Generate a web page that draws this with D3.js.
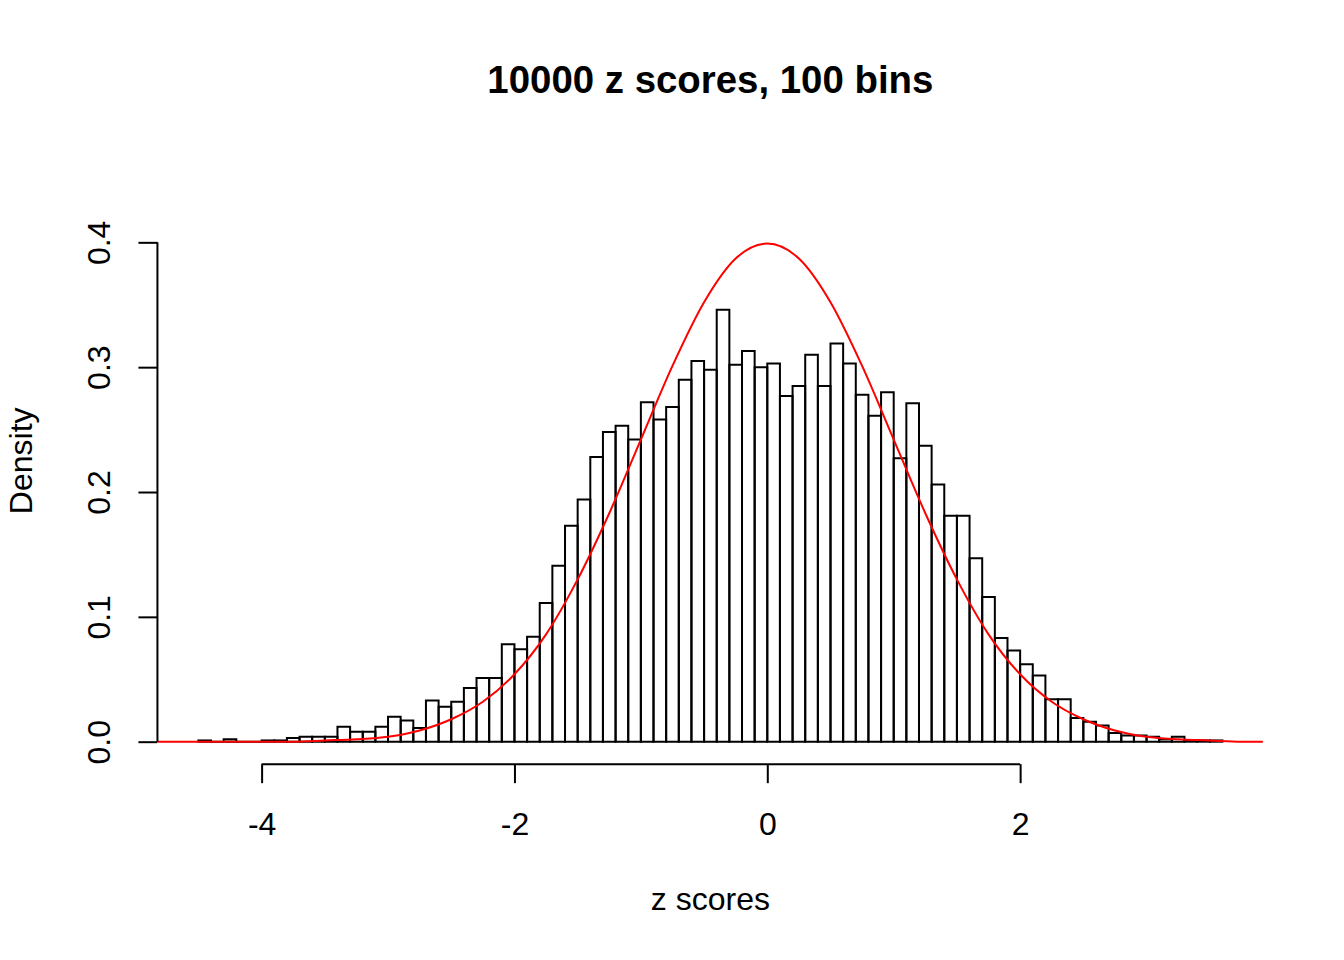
<!DOCTYPE html>
<html>
<head>
<meta charset="utf-8">
<script src="https://cdn.jsdelivr.net/npm/d3@7"></script>
<style>
  html, body { margin: 0; padding: 0; background: #ffffff; }
  svg { display: block; }
  text { font-family: "Liberation Sans", Arial, Helvetica, sans-serif; fill: #000; }
</style>
</head>
<body>
<svg id="chart" width="1344" height="960"></svg>
<script>
// ---- chart data ----
const chartTitle = "10000 z scores, 100 bins";
const xLabel = "z scores";
const yLabel = "Density";

// histogram break points: -4.5, -4.4, ..., 3.6 (81 bins of width 0.1)
const binEdges = d3.range(-45, 37).map(k => k / 10);

// density of each bin, left to right
const densities = [
  0.001, 0.000, 0.002, 0.000, 0.000, 0.001, 0.001, 0.003, 0.004, 0.004,
  0.004, 0.012, 0.008, 0.008, 0.012, 0.020, 0.017, 0.011, 0.033, 0.028,
  0.032, 0.043, 0.051, 0.051, 0.078, 0.074, 0.084, 0.111, 0.141, 0.173,
  0.194, 0.228, 0.248, 0.253, 0.242, 0.272, 0.258, 0.268, 0.290, 0.305,
  0.298, 0.346, 0.302, 0.313, 0.300, 0.303, 0.277, 0.285, 0.310, 0.285,
  0.319, 0.303, 0.278, 0.261, 0.280, 0.227, 0.271, 0.237, 0.206, 0.181,
  0.181, 0.147, 0.116, 0.083, 0.073, 0.062, 0.053, 0.034, 0.034, 0.019,
  0.016, 0.013, 0.007, 0.005, 0.005, 0.004, 0.002, 0.004, 0.001, 0.001,
  0.001
];

// reference density curve (red line)
const curveX = [-4.82, -4.5, -4.25, -4, -3.75, -3.5, -3.25, -3, -2.75, -2.5,
  -2.25, -2, -1.75, -1.5, -1.25, -1, -0.75, -0.5, -0.25, 0,
  0.25, 0.5, 0.75, 1, 1.25, 1.5, 1.75, 2, 2.25, 2.5,
  2.75, 3, 3.25, 3.5, 3.75, 3.92];
const curveY = [0.000, 0.000, 0.000, 0.000, 0.000, 0.001, 0.002, 0.004, 0.009, 0.018,
  0.032, 0.054, 0.086, 0.130, 0.183, 0.242, 0.301, 0.352, 0.387, 0.399,
  0.387, 0.352, 0.301, 0.242, 0.183, 0.130, 0.086, 0.054, 0.032, 0.018,
  0.009, 0.004, 0.002, 0.001, 0.000, 0.000];

const xTicks = [-4, -2, 0, 2];
const yTicks = [0, 0.1, 0.2, 0.3, 0.4];
const yLimit = [0, 0.45];

// ---- layout ----
const W = 1344, H = 960;
const lineH = 38.4;                       // one margin line
const plot = {
  left: 4.1 * lineH,
  right: W - 2.1 * lineH,
  top: 4.1 * lineH,
  bottom: H - 5.1 * lineH
};
const fontSize = 32;
const tickLen = 19;

const svg = d3.select("#chart");
svg.append("rect").attr("width", W).attr("height", H).attr("fill", "#ffffff");

// axis ranges padded by 4% on each side
const xMin = binEdges[0], xMax = binEdges[binEdges.length - 1];
const xPad = 0.04 * (xMax - xMin);
const yPad = 0.04 * (yLimit[1] - yLimit[0]);

const x = d3.scaleLinear()
  .domain([xMin - xPad, xMax + xPad])
  .range([plot.left, plot.right]);
const y = d3.scaleLinear()
  .domain([yLimit[0] - yPad, yLimit[1] + yPad])
  .range([plot.bottom, plot.top]);

// ---- histogram bars (outlined, no fill) ----
const bins = densities.map((d, i) => ({ x0: binEdges[i], x1: binEdges[i + 1], d }));
svg.append("g")
  .attr("fill", "none")
  .attr("stroke", "#000")
  .attr("stroke-width", 2)
  .selectAll("path")
  .data(bins)
  .join("path")
  .attr("d", b => {
    const p = d3.path();
    p.moveTo(x(b.x0), y(0));
    p.lineTo(x(b.x0), y(b.d));
    p.lineTo(x(b.x1), y(b.d));
    p.lineTo(x(b.x1), y(0));
    p.closePath();
    return p.toString();
  });

// ---- density curve ----
const curvePts = curveX.map((v, i) => [v, curveY[i]]);
svg.append("path")
  .datum(curvePts)
  .attr("fill", "none")
  .attr("stroke", "#ff0000")
  .attr("stroke-width", 2)
  .attr("d", d3.line().x(p => x(p[0])).y(p => y(p[1])).curve(d3.curveMonotoneX));

// ---- x axis ----
const gx = svg.append("g")
  .attr("transform", `translate(0,${plot.bottom})`)
  .call(d3.axisBottom(x).tickValues(xTicks).tickSize(tickLen).tickSizeOuter(0)
    .tickFormat(d => String(d)));
gx.select(".domain").remove();
gx.attr("font-size", fontSize).attr("font-family", null);
gx.selectAll(".tick line").attr("stroke", "#000").attr("stroke-width", 2);
gx.selectAll(".tick text").attr("y", 71).attr("dy", 0).attr("fill", "#000");
gx.append("line")
  .attr("x1", x(xTicks[0])).attr("x2", x(xTicks[xTicks.length - 1]))
  .attr("y1", 0).attr("y2", 0)
  .attr("stroke", "#000").attr("stroke-width", 2);

// ---- y axis ----
const gy = svg.append("g")
  .attr("transform", `translate(${plot.left},0)`)
  .call(d3.axisLeft(y).tickValues(yTicks).tickSize(tickLen).tickSizeOuter(0)
    .tickFormat(d3.format(".1f")));
gy.select(".domain").remove();
gy.attr("font-size", fontSize).attr("font-family", null);
gy.selectAll(".tick line").attr("stroke", "#000").attr("stroke-width", 2);
gy.selectAll(".tick text")
  .attr("transform", "rotate(-90)")
  .attr("x", 0).attr("y", -47).attr("dy", 0)
  .attr("text-anchor", "middle")
  .attr("fill", "#000");
gy.append("line")
  .attr("x1", 0).attr("x2", 0)
  .attr("y1", y(yTicks[0])).attr("y2", y(yTicks[yTicks.length - 1]))
  .attr("stroke", "#000").attr("stroke-width", 2);

// ---- titles ----
const midX = (plot.left + plot.right) / 2;
const midY = (plot.top + plot.bottom) / 2;

svg.append("text")
  .attr("x", midX).attr("y", 93)
  .attr("text-anchor", "middle")
  .attr("font-size", fontSize * 1.2)
  .attr("font-weight", "bold")
  .text(chartTitle);

svg.append("text")
  .attr("x", midX).attr("y", 910)
  .attr("text-anchor", "middle")
  .attr("font-size", fontSize)
  .text(xLabel);

svg.append("text")
  .attr("transform", `translate(32,${midY}) rotate(-90)`)
  .attr("text-anchor", "middle")
  .attr("font-size", fontSize)
  .text(yLabel);
</script>
</body>
</html>
